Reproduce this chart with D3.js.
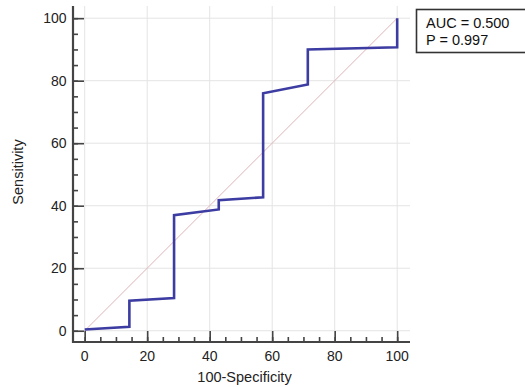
<!DOCTYPE html>
<html>
<head>
<meta charset="utf-8">
<script src="https://cdn.jsdelivr.net/npm/d3@7"></script>
<style>
  html, body { margin: 0; padding: 0; background: #fff; }
  svg { display: block; font-family: "Liberation Sans", Arial, sans-serif; }
</style>
</head>
<body>
<svg id="chart" width="525" height="387"></svg>
<script>
// ROC curve: 100-Specificity (x) vs Sensitivity (y)
const fpr = [0, 14.3, 14.3, 28.6, 28.6, 42.9, 42.9, 57.1, 57.1, 71.4, 71.4, 100, 100];
const tpr = [0.4, 1.3, 9.6, 10.5, 37.0, 38.8, 41.8, 42.7, 76.0, 78.8, 90.0, 90.7, 100];
const majorTicks = [0, 20, 40, 60, 80, 100];
const minorTicks = d3.range(0, 101, 5);
const statsLines = ["AUC = 0.500", "P = 0.997"];
const xTitle = "100-Specificity";
const yTitle = "Sensitivity";

const svg = d3.select("#chart");
const x = d3.scaleLinear().domain([-3.74, 104.1]).range([73, 410]);
const y = d3.scaleLinear().domain([-3.6, 103.9]).range([342, 6]);

// grid
const grid = svg.append("g").attr("stroke", "#e4e4e4").attr("stroke-width", 1);
grid.selectAll(".gx").data(majorTicks).join("line")
  .attr("x1", d => x(d)).attr("x2", d => x(d))
  .attr("y1", y(103.9)).attr("y2", y(-3.6));
grid.selectAll(".gy").data(majorTicks).join("line")
  .attr("x1", x(-3.74)).attr("x2", x(104.1))
  .attr("y1", d => y(d)).attr("y2", d => y(d));

// reference diagonal
svg.append("line")
  .attr("x1", x(0)).attr("y1", y(0)).attr("x2", x(100)).attr("y2", y(100))
  .attr("stroke", "#e0b4b8").attr("stroke-width", 1);

// ROC curve
const pts = fpr.map((v, i) => [v, tpr[i]]);
svg.append("path")
  .datum(pts)
  .attr("d", d3.line().x(d => x(d[0])).y(d => y(d[1])))
  .attr("fill", "none")
  .attr("stroke", "#3c3ca2")
  .attr("stroke-width", 2.6)
  .attr("stroke-linejoin", "miter");

// Y axis (ticks point into the plot)
const yAxisMinor = d3.axisRight(y).tickValues(minorTicks).tickSize(5).tickFormat("");
const yAxisMajor = d3.axisRight(y).tickValues(majorTicks).tickSize(11).tickFormat("");
[yAxisMinor, yAxisMajor].forEach(ax => {
  const g = svg.append("g").attr("transform", "translate(73,0)").call(ax);
  g.select(".domain").remove();
  g.selectAll(".tick line").attr("stroke", "#444").attr("stroke-width", 1.6);
});
svg.append("line").attr("x1", 73).attr("x2", 73).attr("y1", 6).attr("y2", 343)
  .attr("stroke", "#444").attr("stroke-width", 2.2);
svg.append("g").selectAll("text").data(majorTicks).join("text")
  .attr("x", 66.5).attr("y", d => y(d)).attr("dy", "0.36em")
  .attr("text-anchor", "end").attr("font-size", 14).attr("fill", "#222")
  .text(d => d);

// X axis (ticks point up into the plot)
const xAxisMinor = d3.axisTop(x).tickValues(minorTicks).tickSize(5).tickFormat("");
const xAxisMajor = d3.axisTop(x).tickValues(majorTicks).tickSize(11).tickFormat("");
[xAxisMinor, xAxisMajor].forEach(ax => {
  const g = svg.append("g").attr("transform", "translate(0,342)").call(ax);
  g.select(".domain").remove();
  g.selectAll(".tick line").attr("stroke", "#444").attr("stroke-width", 1.6);
});
svg.append("line").attr("x1", 72).attr("x2", 410).attr("y1", 342).attr("y2", 342)
  .attr("stroke", "#444").attr("stroke-width", 2.2);
svg.append("g").selectAll("text").data(majorTicks).join("text")
  .attr("x", d => x(d)).attr("y", 361)
  .attr("text-anchor", "middle").attr("font-size", 14).attr("fill", "#222")
  .text(d => d);

// axis titles
svg.append("text")
  .attr("x", 244.5).attr("y", 382)
  .attr("text-anchor", "middle").attr("font-size", 14.5).attr("fill", "#222")
  .text(xTitle);
svg.append("text")
  .attr("transform", "translate(23,172) rotate(-90)")
  .attr("text-anchor", "middle").attr("font-size", 14.5).attr("fill", "#222")
  .text(yTitle);

// statistics box
const box = svg.append("g");
box.append("rect")
  .attr("x", 416.5).attr("y", 9.5).attr("width", 120).attr("height", 43)
  .attr("fill", "#fff").attr("stroke", "#333").attr("stroke-width", 1.6);
box.selectAll("text").data(statsLines).join("text")
  .attr("x", 426).attr("y", (d, i) => 28 + i * 16.5)
  .attr("font-size", 14.5).attr("fill", "#111")
  .text(d => d);
</script>
</body>
</html>
